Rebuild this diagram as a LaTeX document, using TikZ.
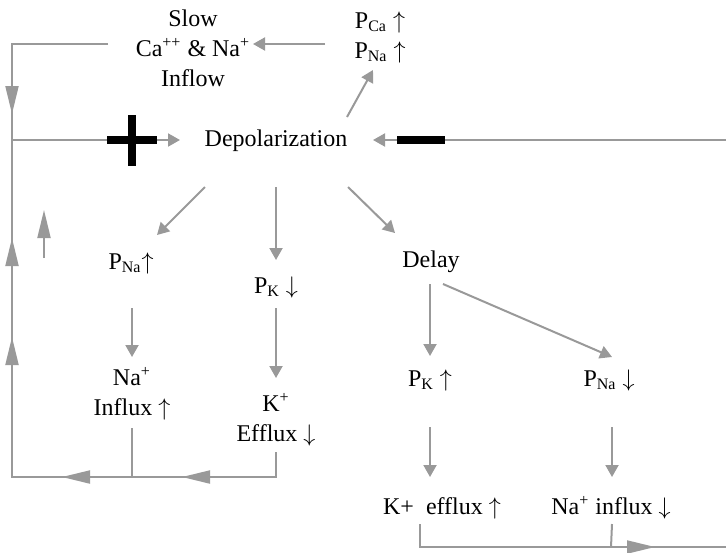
\documentclass[tikz,border=0pt]{standalone}
\usepackage{fontspec}
\setmainfont{Liberation Serif}
\usetikzlibrary{arrows.meta}
\definecolor{linegray}{RGB}{153,153,153}

\begin{document}
\begin{tikzpicture}[x=0.5pt,y=-0.5pt,
  lbl/.style={inner sep=0pt,align=center,font=\fontsize{12}{15}\selectfont},
  conn/.style={draw=linegray,line width=1pt},
  arr/.style={conn,-{Triangle[length=6pt,width=6.5pt]}},
  bigarr/.style={conn,-{Triangle[length=14pt,width=6.5pt]}},
  sign/.style={line width=4pt}]
\useasboundingbox (0,0) rectangle (726,552);

% Labels
\node[lbl] (slow) at (193,48) {Slow\\Ca\textsuperscript{++} \& Na\textsuperscript{+}\\Inflow};
\node[lbl] (pcana) at (380,37) {P\textsubscript{Ca} $\uparrow$\\P\textsubscript{Na} $\uparrow$};
\node[lbl] (depol) at (276,141) {Depolarization};
\node[lbl] (pna1) at (131,263) {P\textsubscript{Na}$\uparrow$};
\node[lbl] (pk1) at (276,287) {P\textsubscript{K} $\downarrow$};
\node[lbl] (delay) at (431,262) {Delay};
\node[lbl] (nainf1) at (132,394) {Na\textsuperscript{+}\\Influx $\uparrow$};
\node[lbl] (kef1) at (276,420) {K\textsuperscript{+}\\Efflux $\downarrow$};
\node[lbl] (pk2) at (430,380) {P\textsubscript{K} $\uparrow$};
\node[lbl] (pna2) at (609,380) {P\textsubscript{Na} $\downarrow$};
\node[lbl] (kef2) at (442,508) {K+~ efflux $\uparrow$};
\node[lbl] (nainf2) at (611,508) {Na\textsuperscript{+} influx $\downarrow$};

% Loop corners
\coordinate (ul) at (12,44);
\coordinate (ml) at (12,140);
\coordinate (ll) at (12,477);
\coordinate (re) at (726,140);
\coordinate (rb) at (726,547);

% Arrows out of Depolarization
\draw[arr] ([shift={(71,-24)}]depol.center) -- ([shift={(-7,33)}]pcana.center);
\draw[arr] ([shift={(-71,46)}]depol.center) -- ([shift={(26,-28)}]pna1.center);
\draw[arr] ([shift={(0,46)}]depol.center) -- ([shift={(0,-27)}]pk1.center);
\draw[arr] ([shift={(72,46)}]depol.center) -- ([shift={(-36,-29)}]delay.center);
\draw[arr] ([shift={(-55,7)}]pcana.center) -- ([shift={(60,-4)}]slow.center);

% Down the columns
\draw[arr] ([shift={(1,45)}]pna1.center) -- ([shift={(0,-37)}]nainf1.center);
\draw[arr] ([shift={(0,21)}]pk1.center) -- ([shift={(0,-42)}]kef1.center);
\draw[arr] ([shift={(-1,22)}]delay.center) -- ([shift={(0,-24)}]pk2.center);
\draw[arr] ([shift={(12,22)}]delay.center) -- ([shift={(3,-23)}]pna2.center);
\draw[arr] ([shift={(0,47)}]pk2.center) -- ([shift={(-12,-31)}]kef2.center);
\draw[arr] ([shift={(3,47)}]pna2.center) -- ([shift={(1,-31)}]nainf2.center);

% Feedback loops
\draw[conn] ([shift={(-85,-4)}]slow.center) -| (ll) -| ([shift={(0,32)}]kef1.center);
\draw[conn] ([shift={(0,34)}]nainf1.center) -- (nainf1 |- ll);
\draw[arr] (ml) -- ([shift={(-96,-1)}]depol.center);
\draw[arr] (re) -- ([shift={(97,-1)}]depol.center);
\draw[conn] ([shift={(-22,16)}]kef2.center) |- (rb);
\draw[conn] ([shift={(1,16)}]nainf2.center) -- (nainf2 |- rb);

% Heads along the loops
\draw[bigarr] (12,80) -- (12,114);
\draw[bigarr] (12,272) -- (12,238);
\draw[bigarr] (12,371) -- (12,337);
\draw[bigarr] (44,258) -- (44,210);
\draw[bigarr] (96,477) -- (62,477);
\draw[bigarr] (216,477) -- (182,477);
\draw[bigarr] (620,547) -- (655,547);

% Plus and minus
\draw[sign] (107,140) -- (157,140);
\draw[sign] (132,115) -- (132,166);
\draw[sign] (397,140) -- (445,140);
\end{tikzpicture}
\end{document}
